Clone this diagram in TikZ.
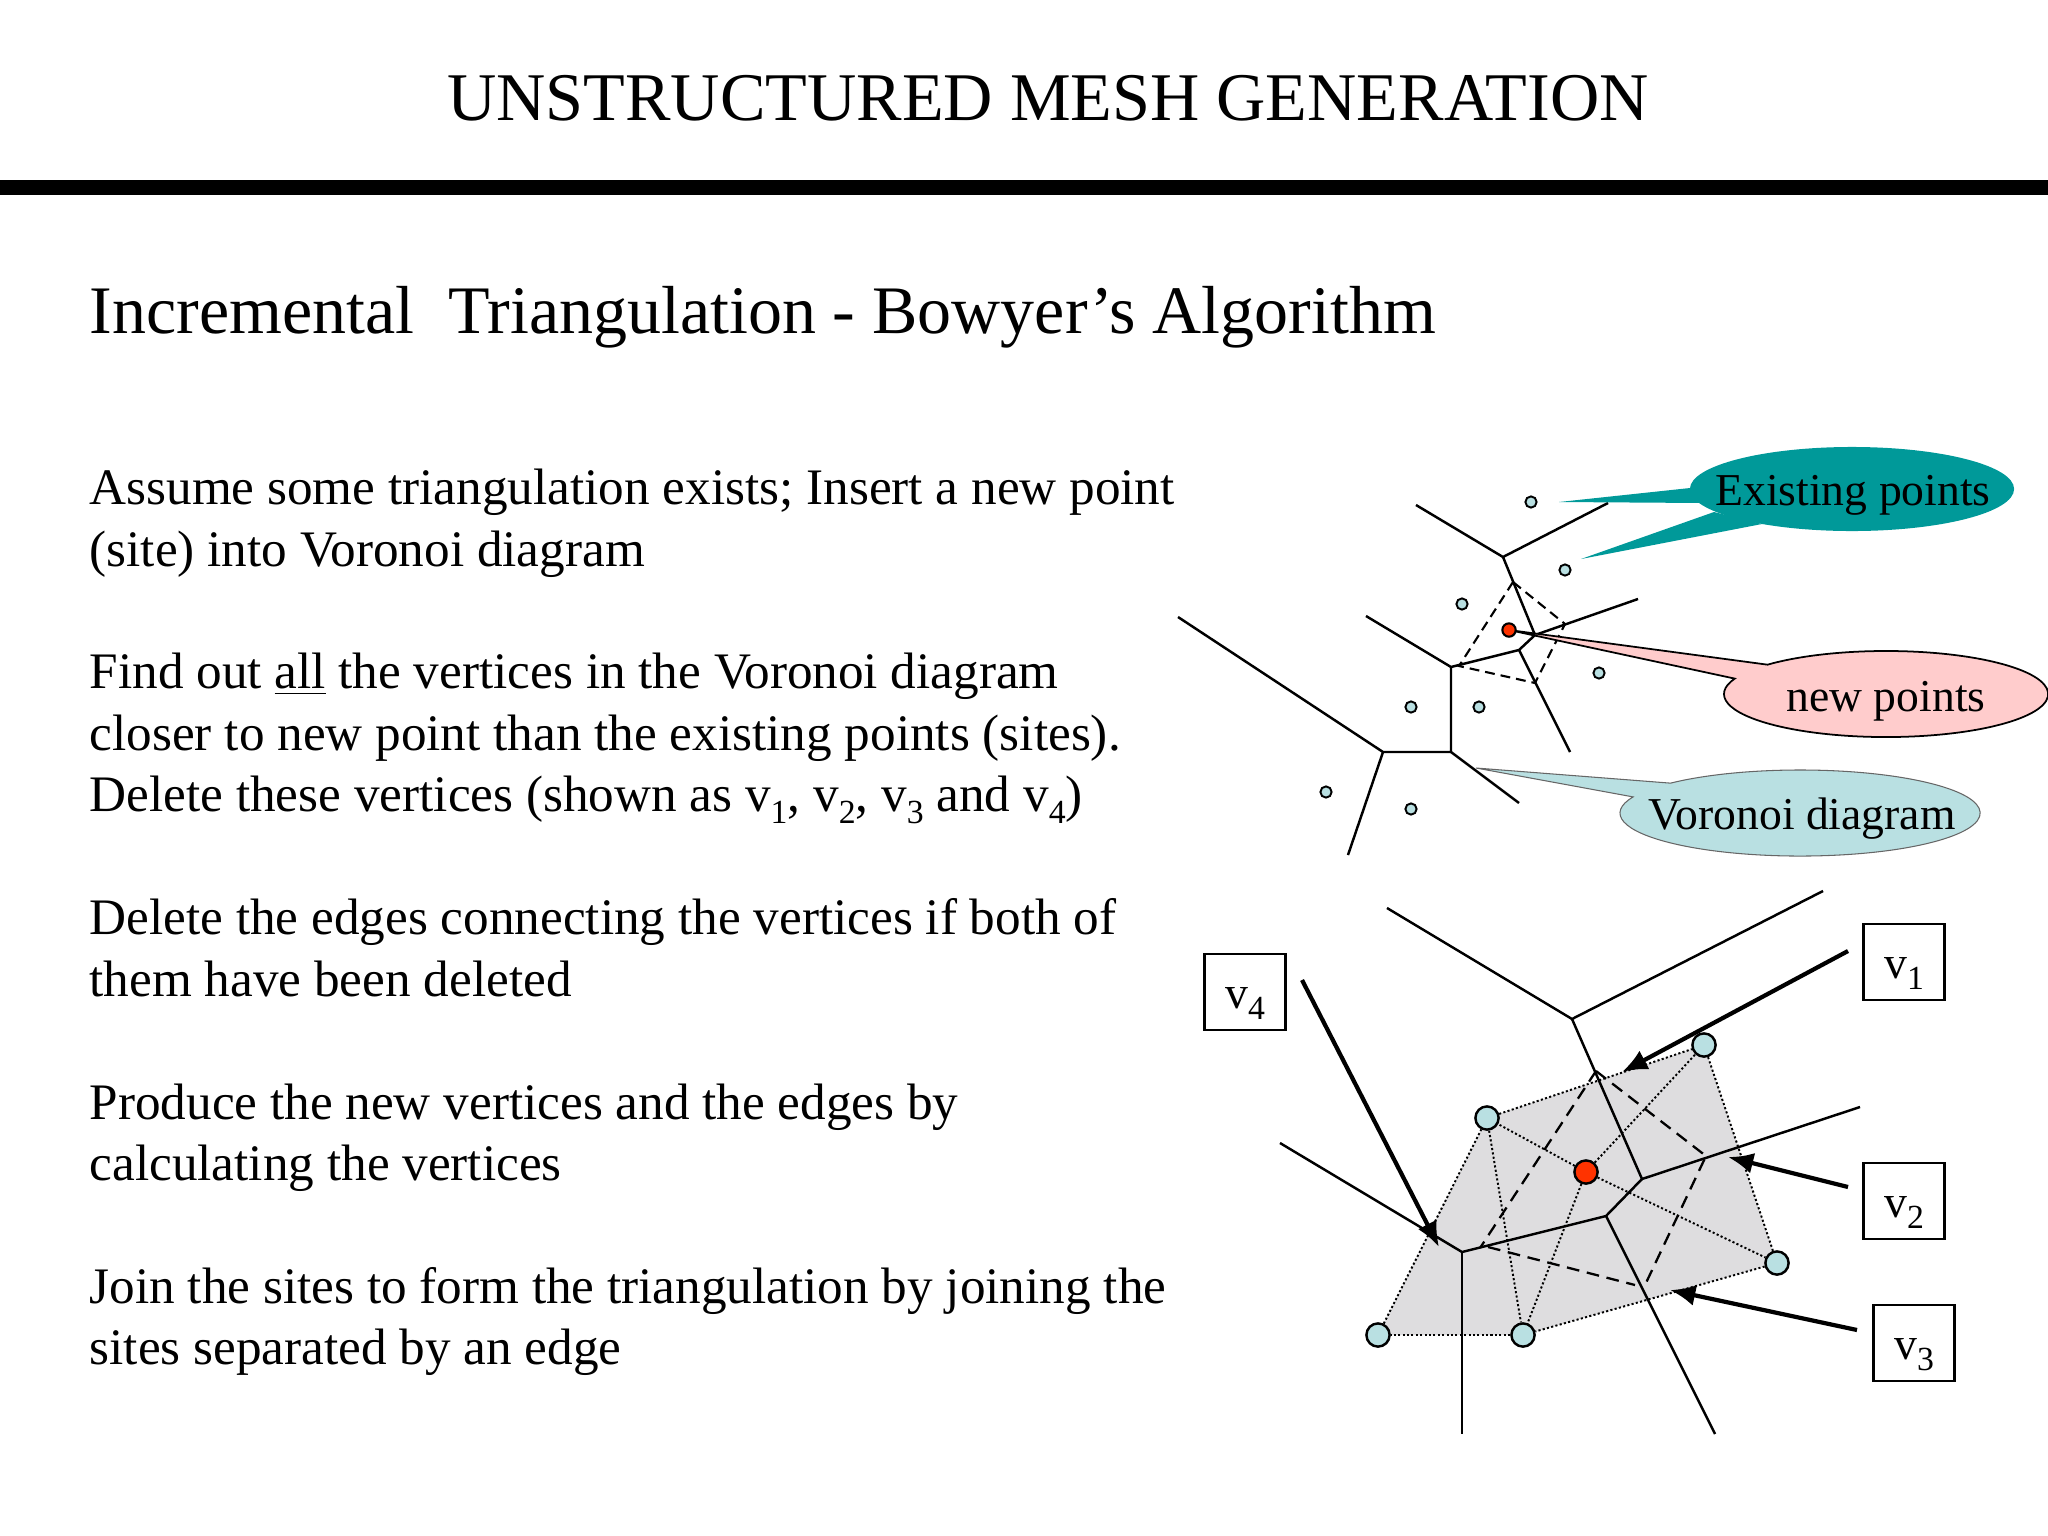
\documentclass[tikz,border=0pt]{standalone}
\usepackage{fontspec}
\setmainfont{Liberation Serif}
\usetikzlibrary{arrows.meta,backgrounds,calc}
\definecolor{tealfill}{HTML}{009999}
\definecolor{pinkfill}{HTML}{FFCCCC}
\definecolor{bluefill}{HTML}{B9E0E2}
\definecolor{redfill}{HTML}{FF3300}
\definecolor{meshgray}{HTML}{DEDDDF}
\tikzset{
	line/.style={inner sep=0pt,anchor=base west,font=\fontsize{14.56}{18}\selectfont},
	vedge/.style={line width=0.7pt},
	dashedge/.style={line width=0.65pt,dash pattern=on 3.6pt off 2.2pt},
	dashsmall/.style={line width=0.6pt,dash pattern=on 2.8pt off 1.7pt},
	dotedge/.style={line width=0.55pt,dash pattern=on 0.6pt off 0.65pt},
	sitesmall/.style={circle,draw,fill=bluefill,line width=0.55pt,minimum size=3.2pt,inner sep=0pt},
	sitebig/.style={circle,draw,fill=bluefill,line width=0.7pt,minimum size=6.6pt,inner sep=0pt},
	newsmall/.style={circle,draw,fill=redfill,line width=0.6pt,minimum size=3.8pt,inner sep=0pt},
	newbig/.style={circle,draw,fill=redfill,line width=0.7pt,minimum size=6.6pt,inner sep=0pt},
	bubbletext/.style={inner sep=0pt,font=\fontsize{12.97}{16}\selectfont},
	vbox/.style={draw,line width=0.8pt,minimum width=22.9pt,minimum height=21.6pt,inner sep=0pt},
	vlead/.style={line width=1.2pt,-{Latex[length=7.2pt,width=6pt]}},
}
\newcommand{\vsub}[1]{v\raisebox{-0.55ex}{\fontsize{9.6}{12}\selectfont #1}}
\newcommand{\vlab}[1]{\fontsize{13}{16}\selectfont\raisebox{-4.6pt}[0pt][0pt]{\vsub{#1}}}
\begin{document}
\begin{tikzpicture}[x=0.01cm,y=0.01cm]
	\useasboundingbox (0,0) rectangle (2048,-1536);
	% headings
	\node[inner sep=0pt,anchor=base,font=\fontsize{19.4}{24}\selectfont] (title) at (1048,-120) {UNSTRUCTURED MESH GENERATION};
	\fill (0,-180) rectangle (2048,-195);
	\node[inner sep=0pt,anchor=base west,font=\fontsize{19.33}{24}\selectfont] (subtitle) at (89,-333) {Incremental\ \ Triangulation - Bowyer’s Algorithm};
	% text on the left
	\foreach \n/\y/\lab in {1/504/{Assume some triangulation exists; Insert a new point},
		2/566/{(site) into Voronoi diagram},
		3/688/{Find out \underline{all} the vertices in the Voronoi diagram},
		4/750/{closer to new point than the existing points (sites).},
		5/811/{Delete these vertices (shown as \vsub{1}, \vsub{2}, \vsub{3} and \vsub{4})},
		6/934/{Delete the edges connecting the vertices if both of},
		7/996/{them have been deleted},
		8/1119/{Produce the new vertices and the edges by},
		9/1180/{calculating the vertices},
		10/1303/{Join the sites to form the triangulation by joining the},
		11/1364/{sites separated by an edge}} {
		\node[line] (line\n) at (89,-\y) {\lab};
	}
	% upper diagram
	\coordinate (a) at (1503,-557);
	\coordinate (b) at (1535,-635);
	\coordinate (c) at (1519,-650);
	\coordinate (d) at (1451,-667);
	\coordinate (e) at (1451,-752);
	\coordinate (f) at (1383,-752);
	\draw[vedge] (1416,-505) -- (a) -- (1608,-503);
	\draw[vedge] (a) -- (b) -- (1638,-599);
	\draw[vedge] (b) -- (c) -- (d) -- (1366,-616);
	\draw[vedge] (c) -- (1570,-752);
	\draw[vedge] (d) -- (e) -- (f) -- (1178,-617);
	\draw[vedge] (f) -- (1348,-855);
	\draw[vedge] (e) -- (1519,-803);
	\draw[dashsmall] (1513,-582) -- (1459,-666) -- (1535,-683) -- (1565,-624) -- (1513,-582);
	% callouts
	\coordinate (tealc) at (1852,-489);
	\fill[tealfill] (1559,-502) -- (1690,-488) -- (1703,-503) -- cycle;
	\fill[tealfill] (1581,-559) -- (1714,-512) -- (1762,-524) -- cycle;
	\fill[tealfill] (tealc) ellipse[x radius=1.62cm,y radius=0.42cm];
	\node[bubbletext] (existing) at (1853,-495) {Existing points};
	\coordinate (pinkc) at (1886,-694);
	\coordinate (newtip) at (1509,-630);
	\filldraw[fill=pinkfill,line width=0.5pt] (newtip) -- ($(pinkc)+(137:162 and 43)$) arc[start angle=137,end angle=-201,x radius=1.62cm,y radius=0.43cm] -- cycle;
	\node[newsmall] (newa) at (newtip) {};
	\node[bubbletext] (newpts) at (1886,-701) {new points};
	\coordinate (bluec) at (1800,-813);
	\filldraw[fill=bluefill,draw=black!60,line width=0.3pt] (1476,-768) -- ($(bluec)+(136:180 and 43)$) arc[start angle=136,end angle=-202,x radius=1.8cm,y radius=0.43cm] -- cycle;
	\node[bubbletext] (voronoi) at (1802,-819) {Voronoi diagram};
	\foreach \n/\x/\y in {a/1531/502,b/1565/570,c/1462/604,d/1599/673,e/1411/707,f/1479/707,g/1326/792,h/1411/809} {
		\node[sitesmall] (site\n) at (\x,-\y) {};
	}
	% lower diagram
	\foreach \n/\x/\y in {1/1487/1118,2/1704/1045,3/1777/1263,4/1523/1335,5/1378/1335} {
		\node[sitebig] (s\n) at (\x,-\y) {};
	}
	\node[newbig] (snew) at (1586,-1172) {};
	\begin{scope}[on background layer]
		\fill[meshgray] (s1.center) -- (s2.center) -- (s3.center) -- (s4.center) -- (s5.center) -- cycle;
		\draw[dotedge] (s1) -- (s2);
		\draw[dotedge] (s2) -- (s3);
		\draw[dotedge] (s3) -- (s4);
		\draw[dotedge] (s4) -- (s5);
		\draw[dotedge] (s5) -- (s1);
		\draw[dotedge] (s1) -- (s4);
		\foreach \n in {1,2,3,4} {
			\draw[dotedge] (snew) -- (s\n);
		}
	\end{scope}
	\coordinate (t) at (1572,-1019);
	\coordinate (p) at (1642,-1179);
	\coordinate (q) at (1606,-1216);
	\coordinate (r) at (1462,-1252);
	\coordinate (vone) at (1596,-1071);
	\coordinate (vtwo) at (1706,-1156);
	\draw[vedge] (1387,-908) -- (t) -- (1823,-891);
	\draw[vedge] (t) -- (p) -- (1860,-1107);
	\draw[vedge] (p) -- (q) -- (r) -- (1280,-1143);
	\draw[vedge] (r) -- (1462,-1434);
	\draw[vedge] (q) -- (1715,-1434);
	\draw[dashedge] (vone) -- (1480,-1248);
	\draw[dashedge] (vone) -- (vtwo) -- (1645,-1285);
	\draw[dashedge] (1488,-1247) -- (1635,-1285);
	\node[vbox] (vbox1) at (1904,-962) {\vlab{1}};
	\node[vbox] (vbox2) at (1904,-1201) {\vlab{2}};
	\node[vbox] (vbox3) at (1914,-1343) {\vlab{3}};
	\node[vbox] (vbox4) at (1245,-992) {\vlab{4}};
	\draw[vlead] (1848,-951) -- (1622,-1072);
	\draw[vlead] (1848,-1187) -- (1728,-1157);
	\draw[vlead] (1857,-1330) -- (1670,-1290);
	\draw[vlead] (1302,-980) -- (1439,-1247);
\end{tikzpicture}
\end{document}
